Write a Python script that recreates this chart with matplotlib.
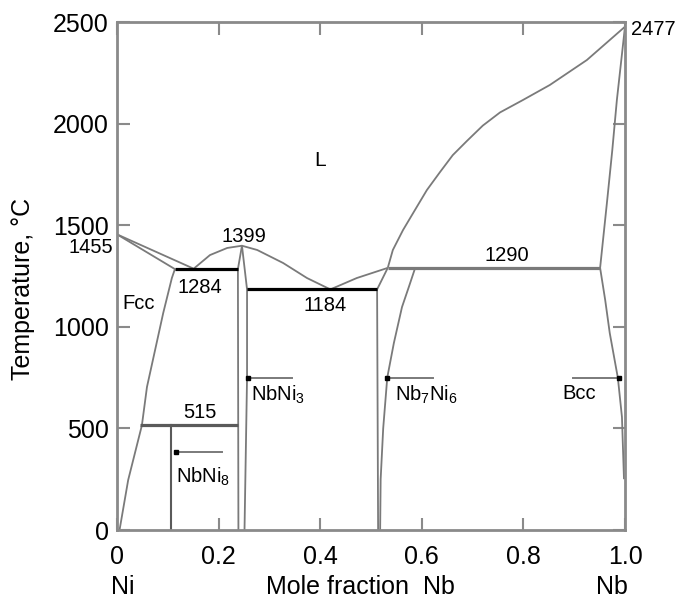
import matplotlib
matplotlib.use('Agg')
import matplotlib.pyplot as plt

plt.rcParams['font.family'] = ['Liberation Sans', 'DejaVu Sans']
plt.rcParams['mathtext.default'] = 'regular'

LINE_GRAY = '#7a7a7a'
AXIS_GRAY = '#8a8a8a'

# phase boundaries (mole fraction Nb, temperature in C)
liq_ni_x = [0.0, 0.150]
liq_ni_t = [1455, 1287]
sol_ni_x = [0.0, 0.114]
sol_ni_t = [1455, 1284]
fcc_solvus_x = [0.114, 0.108, 0.091, 0.075, 0.059, 0.049, 0.022, 0.005]
fcc_solvus_t = [1284, 1240, 1068, 886, 704, 515, 246, 0]
nbni3_liq_x = [0.150, 0.183, 0.217, 0.246, 0.276, 0.327, 0.374, 0.420]
nbni3_liq_t = [1284, 1353, 1388, 1399, 1378, 1314, 1240, 1184]
nbni3_left_x = [0.246, 0.238, 0.239]
nbni3_left_t = [1399, 1284, 0]
nbni3_right_x = [0.246, 0.256, 0.256, 0.251]
nbni3_right_t = [1399, 1184, 750, 0]
eut_liq_x = [0.420, 0.472, 0.533]
eut_liq_t = [1184, 1240, 1290]
mu_left_x = [0.533, 0.512, 0.514]
mu_left_t = [1290, 1184, 0]
mu_right_x = [0.587, 0.575, 0.561, 0.545, 0.532, 0.524, 0.519, 0.518]
mu_right_t = [1290, 1200, 1097, 920, 750, 500, 250, 0]
nb_liq_x = [0.533, 0.543, 0.563, 0.583, 0.610, 0.636, 0.661, 0.689, 0.720, 0.754,
            0.799, 0.852, 0.925, 1.0]
nb_liq_t = [1290, 1378, 1476, 1560, 1673, 1762, 1845, 1915, 1990, 2055,
            2116, 2190, 2313, 2477]
bcc_sol_x = [1.0, 0.984, 0.975, 0.965, 0.951]
bcc_sol_t = [2477, 2116, 1870, 1624, 1290]
bcc_solvus_x = [0.951, 0.961, 0.970, 0.986, 0.994, 0.998]
bcc_solvus_t = [1290, 1132, 969, 748, 556, 250]
nbni8_x = [0.107, 0.107]
nbni8_t = [515, 0]

# invariant lines
iso_t = [1284, 1184, 1290, 515]
iso_x0 = [0.114, 0.256, 0.533, 0.046]
iso_x1 = [0.238, 0.512, 0.951, 0.239]
iso_color = ['black', 'black', LINE_GRAY, '#5a5a5a']

x_ticks = [0, 0.2, 0.4, 0.6, 0.8, 1.0]
x_tick_labels = ['0', '0.2', '0.4', '0.6', '0.8', '1.0']
y_ticks = [0, 500, 1000, 1500, 2000, 2500]

fig = plt.figure(figsize=(6.83, 5.99), dpi=100)
ax = fig.add_axes([117 / 683, 69 / 599, 508 / 683, 508 / 599])

curves = [
    (liq_ni_x, liq_ni_t), (sol_ni_x, sol_ni_t), (fcc_solvus_x, fcc_solvus_t),
    (nbni3_liq_x, nbni3_liq_t), (nbni3_left_x, nbni3_left_t), (nbni3_right_x, nbni3_right_t),
    (eut_liq_x, eut_liq_t), (mu_left_x, mu_left_t), (mu_right_x, mu_right_t),
    (nb_liq_x, nb_liq_t), (bcc_sol_x, bcc_sol_t), (bcc_solvus_x, bcc_solvus_t),
]
for xs, ts in curves:
    ax.plot(xs, ts, color=LINE_GRAY, lw=1.3, solid_capstyle='butt', solid_joinstyle='round')
ax.plot(nbni8_x, nbni8_t, color='#5a5a5a', lw=1.5)

for t, x0, x1, c in zip(iso_t, iso_x0, iso_x1, iso_color):
    ax.plot([x0, x1], [t, t], color=c, lw=2.3, solid_capstyle='butt')

# phase labels with pointer lines
def pointer(x_from, x_to, t):
    ax.plot([x_from, x_to], [t, t], color=LINE_GRAY, lw=1.4)
    ax.plot([x_to], [t], marker='s', ms=2.5, color='black')

pointer(0.344, 0.257, 750)
pointer(0.207, 0.116, 384)
pointer(0.622, 0.532, 750)
pointer(0.898, 0.988, 750)

fs = 14.5
ax.text(0.40, 1820, 'L', fontsize=15, ha='center', va='center')
ax.text(1.012, 2465, '2477', fontsize=fs, ha='left', va='center', clip_on=False)
ax.text(-0.008, 1390, '1455', fontsize=fs, ha='right', va='center', clip_on=False)
ax.text(0.25, 1445, '1399', fontsize=fs, ha='center', va='center')
ax.text(0.164, 1191, '1284', fontsize=fs, ha='center', va='center')
ax.text(0.010, 1117, 'Fcc', fontsize=fs, ha='left', va='center')
ax.text(0.41, 1107, '1184', fontsize=fs, ha='center', va='center')
ax.text(0.768, 1353, '1290', fontsize=fs, ha='center', va='center')
ax.text(0.163, 576, '515', fontsize=fs, ha='center', va='center')
ax.text(0.264, 664, '$NbNi_3$', fontsize=fs, ha='left', va='center')
ax.text(0.116, 261, '$NbNi_8$', fontsize=fs, ha='left', va='center')
ax.text(0.548, 664, '$Nb_7Ni_6$', fontsize=fs, ha='left', va='center')
ax.text(0.876, 674, 'Bcc', fontsize=fs, ha='left', va='center')

ax.set_xlim(0, 1.0)
ax.set_ylim(0, 2500)
ax.set_xticks(x_ticks)
ax.set_xticklabels(x_tick_labels)
ax.set_yticks(y_ticks)
ax.tick_params(direction='in', length=9, width=1.5, color=AXIS_GRAY,
               labelsize=18, top=True, right=True)
ax.tick_params(axis='x', pad=11)
ax.tick_params(axis='y', pad=6)
for sp in ax.spines.values():
    sp.set_color(AXIS_GRAY)
    sp.set_linewidth(2)

trans = ax.get_xaxis_transform()
ax.text(0.012, -0.112, 'Ni', fontsize=18, ha='center', va='center', transform=trans)
ax.text(0.48, -0.112, 'Mole fraction  Nb', fontsize=18, ha='center', va='center', transform=trans)
ax.text(0.975, -0.112, 'Nb', fontsize=18, ha='center', va='center', transform=trans)
fig.text(23 / 683, 1 - 289 / 599, 'Temperature, \u00b0C', fontsize=18, rotation=90,
         ha='center', va='center')

fig.savefig('out.png', dpi=100)
